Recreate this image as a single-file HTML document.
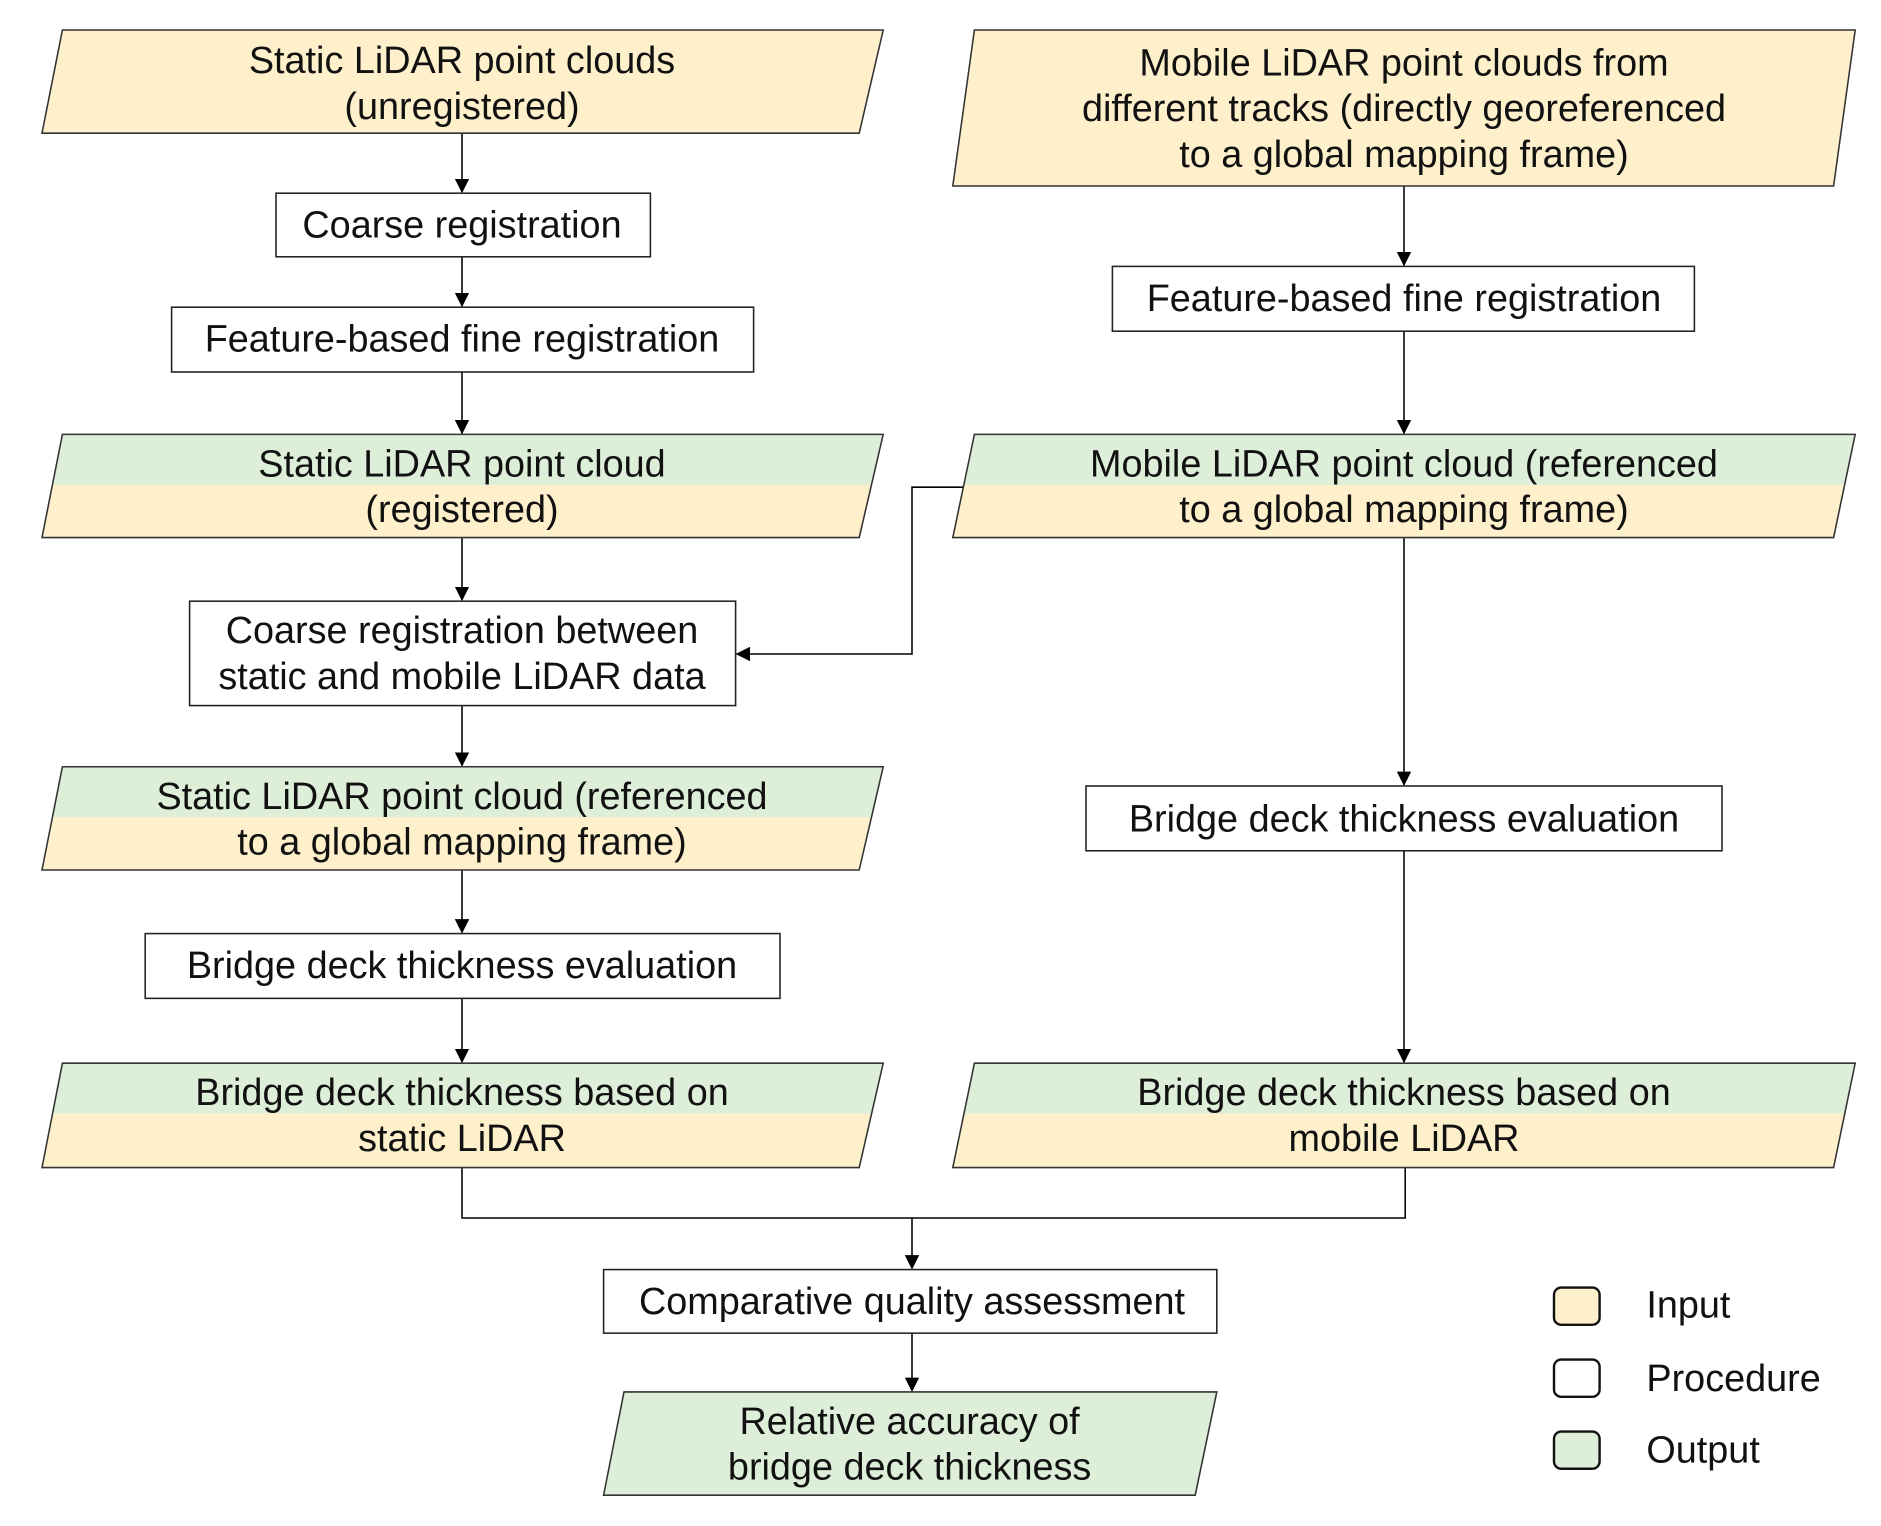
<!DOCTYPE html>
<html><head><meta charset="utf-8"><style>html,body{margin:0;padding:0;background:#fff}svg{display:block}</style></head>
<body>
<svg width="1881" height="1526" viewBox="0 0 1567.5 1271.7" preserveAspectRatio="none" xmlns="http://www.w3.org/2000/svg" font-family="Liberation Sans, sans-serif" font-size="31.5" fill="#111">
<defs>
<marker id="a" markerWidth="12" markerHeight="12" refX="11" refY="6" orient="auto" markerUnits="userSpaceOnUse"><path d="M0,0 L12,6 L0,12 z" fill="#000"/></marker>
<clipPath id="c2"><polygon points="52,362 736,362 716,448 35,448"/></clipPath>
<clipPath id="c3"><polygon points="52,639 736,639 716,725 35,725"/></clipPath>
<clipPath id="c4"><polygon points="52,886 736,886 716,973 35,973"/></clipPath>
<clipPath id="r2"><polygon points="812,362 1546,362 1528,448 794,448"/></clipPath>
<clipPath id="r3"><polygon points="812,886 1546,886 1528,973 794,973"/></clipPath>
</defs>
<g stroke="#000" stroke-width="1.3" fill="none">
<line x1="385" y1="111" x2="385" y2="160" marker-end="url(#a)"/>
<line x1="385" y1="214" x2="385" y2="255" marker-end="url(#a)"/>
<line x1="385" y1="310" x2="385" y2="361" marker-end="url(#a)"/>
<line x1="385" y1="448" x2="385" y2="500" marker-end="url(#a)"/>
<line x1="385" y1="588" x2="385" y2="638" marker-end="url(#a)"/>
<line x1="385" y1="725" x2="385" y2="777" marker-end="url(#a)"/>
<line x1="385" y1="832" x2="385" y2="885" marker-end="url(#a)"/>
<polyline points="385,973 385,1015 1171,1015 1171,973"/>
<line x1="760" y1="1015" x2="760" y2="1057" marker-end="url(#a)"/>
<line x1="760" y1="1111" x2="760" y2="1159" marker-end="url(#a)"/>
<line x1="1170" y1="155" x2="1170" y2="221" marker-end="url(#a)"/>
<line x1="1170" y1="276" x2="1170" y2="361" marker-end="url(#a)"/>
<line x1="1170" y1="448" x2="1170" y2="654" marker-end="url(#a)"/>
<line x1="1170" y1="709" x2="1170" y2="885" marker-end="url(#a)"/>
<polyline points="803,406 760,406 760,545 614,545" marker-end="url(#a)"/>
</g>
<polygon points="52,25 736,25 716,111 35,111" fill="#FFF0CC"/>
<polygon points="812,25 1546,25 1528,155 794,155" fill="#FFF0CC"/>
<g clip-path="url(#c2)"><rect x="0" y="362" width="800" height="86" fill="#FFF0CC"/><rect x="0" y="362" width="800" height="42" fill="#DDEED9"/></g>
<g clip-path="url(#c3)"><rect x="0" y="639" width="800" height="86" fill="#FFF0CC"/><rect x="0" y="639" width="800" height="42" fill="#DDEED9"/></g>
<g clip-path="url(#c4)"><rect x="0" y="886" width="800" height="87" fill="#FFF0CC"/><rect x="0" y="886" width="800" height="42" fill="#DDEED9"/></g>
<g clip-path="url(#r2)"><rect x="780" y="362" width="800" height="86" fill="#FFF0CC"/><rect x="780" y="362" width="800" height="42" fill="#DDEED9"/></g>
<g clip-path="url(#r3)"><rect x="780" y="886" width="800" height="87" fill="#FFF0CC"/><rect x="780" y="886" width="800" height="42" fill="#DDEED9"/></g>
<polygon points="520,1160 1014,1160 996,1246 503,1246" fill="#DDEED9"/>
<g stroke="#333" stroke-width="1.3" fill="none">
<polygon points="52,25 736,25 716,111 35,111"/>
<polygon points="812,25 1546,25 1528,155 794,155"/>
<polygon points="52,362 736,362 716,448 35,448"/>
<polygon points="52,639 736,639 716,725 35,725"/>
<polygon points="52,886 736,886 716,973 35,973"/>
<polygon points="812,362 1546,362 1528,448 794,448"/>
<polygon points="812,886 1546,886 1528,973 794,973"/>
<polygon points="520,1160 1014,1160 996,1246 503,1246"/>
</g>
<g stroke="#222" stroke-width="1.3" fill="#fff">
<rect x="230" y="161" width="312" height="53"/>
<rect x="143" y="256" width="485" height="54"/>
<rect x="158" y="501" width="455" height="87"/>
<rect x="121" y="778" width="529" height="54"/>
<rect x="503" y="1058" width="511" height="53"/>
<rect x="927" y="222" width="485" height="54"/>
<rect x="905" y="655" width="530" height="54"/>
</g>
<g text-anchor="middle">
<text x="385" y="61">Static LiDAR point clouds</text>
<text x="385" y="99">(unregistered)</text>
<text x="385" y="198">Coarse registration</text>
<text x="385" y="293">Feature-based fine registration</text>
<text x="385" y="397">Static LiDAR point cloud</text>
<text x="385" y="435">(registered)</text>
<text x="385" y="536">Coarse registration between</text>
<text x="385" y="574">static and mobile LiDAR data</text>
<text x="385" y="674">Static LiDAR point cloud (referenced</text>
<text x="385" y="712">to a global mapping frame)</text>
<text x="385" y="815">Bridge deck thickness evaluation</text>
<text x="385" y="921">Bridge deck thickness based on</text>
<text x="385" y="959">static LiDAR</text>
<text x="760" y="1095">Comparative quality assessment</text>
<text x="758" y="1195">Relative accuracy of</text>
<text x="758" y="1233">bridge deck thickness</text>
<text x="1170" y="63">Mobile LiDAR point clouds from</text>
<text x="1170" y="101">different tracks (directly georeferenced</text>
<text x="1170" y="139">to a global mapping frame)</text>
<text x="1170" y="259">Feature-based fine registration</text>
<text x="1170" y="397">Mobile LiDAR point cloud (referenced</text>
<text x="1170" y="435">to a global mapping frame)</text>
<text x="1170" y="693">Bridge deck thickness evaluation</text>
<text x="1170" y="921">Bridge deck thickness based on</text>
<text x="1170" y="959">mobile LiDAR</text>
</g>
<g stroke="#111" stroke-width="2">
<rect x="1295" y="1073" width="38" height="31" rx="6" fill="#FFF0CC"/>
<rect x="1295" y="1133" width="38" height="31" rx="6" fill="#fff"/>
<rect x="1295" y="1193" width="38" height="31" rx="6" fill="#DDEED9"/>
</g>
<text x="1372" y="1098">Input</text>
<text x="1372" y="1159">Procedure</text>
<text x="1372" y="1219">Output</text>
</svg>
</body></html>
